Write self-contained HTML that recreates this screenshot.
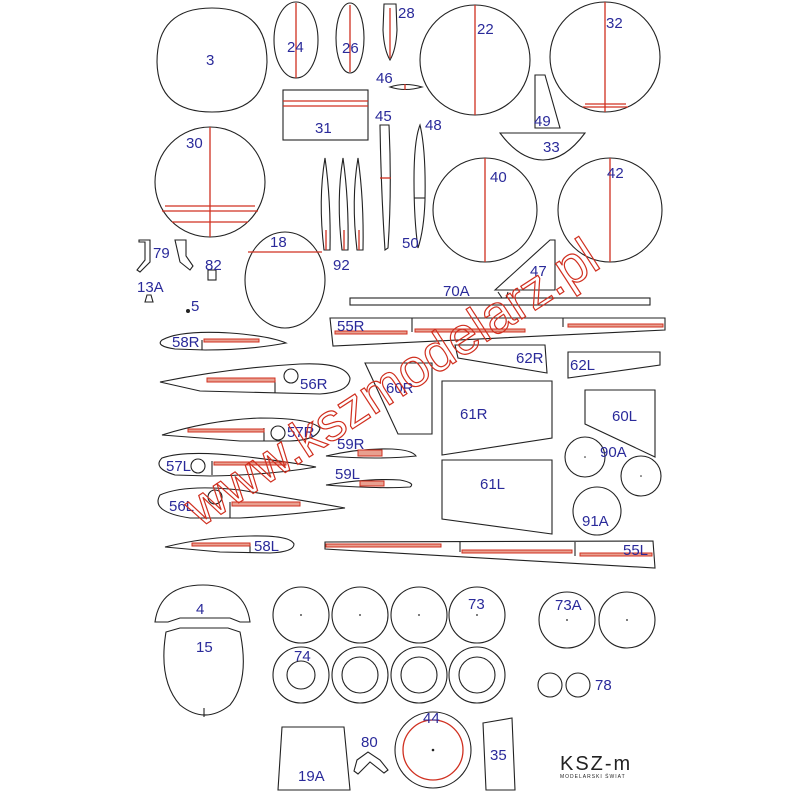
<!DOCTYPE html>
<html><head><meta charset="utf-8"><style>
html,body{margin:0;padding:0;background:#fff;width:800px;height:800px;overflow:hidden}
svg{display:block}
text{font-family:"Liberation Sans",sans-serif;fill:#2a2a9a;font-size:15px}
.k{fill:none;stroke:#222;stroke-width:1.1}
.r{stroke:#d03020;stroke-width:1.3;fill:none}
.rf{fill:#e8a090;stroke:#d03020;stroke-width:1}
</style></head><body>
<svg width="800" height="800" viewBox="0 0 800 800">
<!-- top row -->
<path class="k" d="M212,8 Q267,8 267,62 Q265,112 212,112 Q158,112 157,62 Q157,8 212,8 Z"/><text x="206" y="65">3</text>
<ellipse class="k" cx="296" cy="40" rx="22" ry="38"/><line class="r" x1="296" y1="3" x2="296" y2="78"/><text x="287" y="52">24</text>
<ellipse class="k" cx="350" cy="38" rx="14" ry="35"/><line class="r" x1="350" y1="5" x2="350" y2="72"/><text x="342" y="53">26</text>
<path class="k" d="M384,4 L396,4 L397,30 Q396,50 390,60 Q384,50 383,30 Z"/><line class="r" x1="390" y1="8" x2="390" y2="58"/><text x="398" y="18">28</text>
<circle class="k" cx="475" cy="60" r="55"/><line class="r" x1="475" y1="5" x2="475" y2="115"/><text x="477" y="34">22</text>
<circle class="k" cx="605" cy="57" r="55"/><line class="r" x1="605" y1="2" x2="605" y2="112"/><line class="r" x1="585" y1="104" x2="626" y2="104"/><line class="r" x1="583" y1="107" x2="628" y2="107"/><text x="606" y="28">32</text>
<path class="k" d="M390,87 Q405,82 422,87 Q405,92 390,87 Z"/><line class="r" x1="405" y1="84" x2="405" y2="90"/><text x="376" y="83">46</text>
<rect class="k" x="283" y="90" width="85" height="50"/><line class="r" x1="283" y1="101" x2="368" y2="101"/><line class="r" x1="283" y1="106" x2="368" y2="106"/><text x="315" y="133">31</text>
<path class="k" d="M380,125 L389,125 Q392,190 388,248 L385,250 Q381,190 380,125 Z"/><line class="r" x1="380" y1="178" x2="391" y2="178"/><text x="375" y="121">45</text>
<path class="k" d="M420,125 Q426,150 425,200 Q424,230 418,248 Q414,220 414,180 Q414,140 420,125 Z"/><line class="k" x1="414" y1="198" x2="425" y2="198"/><text x="425" y="130">48</text>
<text x="402" y="248">50</text>
<path class="k" d="M535,75 L545,75 L560,128 L535,128 Z"/><text x="534" y="126">49</text>
<path class="k" d="M500,133 L585,133 Q565,160 543,160 Q520,160 500,133 Z"/><text x="543" y="152">33</text>
<circle class="k" cx="210" cy="182" r="55"/><line class="r" x1="210" y1="127" x2="210" y2="237"/><line class="r" x1="165" y1="206" x2="255" y2="206"/><line class="r" x1="162" y1="211" x2="258" y2="211"/><line class="r" x1="172" y1="222" x2="248" y2="222"/><text x="186" y="148">30</text>
<circle class="k" cx="485" cy="210" r="52"/><line class="r" x1="485" y1="158" x2="485" y2="262"/><text x="490" y="182">40</text>
<circle class="k" cx="610" cy="210" r="52"/><line class="r" x1="610" y1="158" x2="610" y2="262"/><text x="607" y="178">42</text>
<!-- 92 blades -->
<path class="k" d="M325,158 Q331,200 330,250 L324,250 Q318,200 325,158 Z"/>
<path class="k" d="M343,158 Q349,200 348,250 L342,250 Q336,200 343,158 Z"/>
<path class="k" d="M358,158 Q364,200 363,250 L357,250 Q351,200 358,158 Z"/>
<line class="r" x1="326" y1="230" x2="326" y2="250"/><line class="r" x1="344" y1="230" x2="344" y2="250"/><line class="r" x1="359" y1="230" x2="359" y2="250"/>
<text x="333" y="270">92</text>
<!-- 79 82 13A 5 -->
<path class="k" d="M139,240 L150,240 L150,262 L140,272 L137,270 L145,260 L145,242 L139,242 Z"/>
<path class="k" d="M175,240 L186,240 L186,256 L193,266 L190,270 L180,262 Z"/>
<text x="153" y="258">79</text>
<rect class="k" x="208" y="270" width="8" height="10"/><text x="205" y="270">82</text>
<text x="137" y="292">13A</text><path class="k" d="M145,302 L147,295 L151,295 L153,302 Z"/>
<text x="191" y="311">5</text><circle cx="188" cy="311" r="2" fill="#222"/>
<!-- 18 -->
<ellipse class="k" cx="285" cy="280" rx="40" ry="48"/><line class="r" x1="248" y1="252" x2="322" y2="252"/><text x="270" y="247">18</text>
<!-- 47 70A -->
<path class="k" d="M495,290 L550,240 L555,240 L555,290 Z"/><text x="530" y="276">47</text>
<rect class="k" x="350" y="298" width="300" height="7"/><text x="443" y="296">70A</text>
<path class="k" d="M498,292 L502,298 M508,292 L506,298"/>
<!-- 55R -->
<path class="k" d="M330,318 L665,318 L665,330 L333,346 Z"/><line class="k" x1="412" y1="318" x2="412" y2="332"/><line class="k" x1="563" y1="318" x2="563" y2="327"/>
<rect class="rf" x="335" y="331" width="72" height="3"/><rect class="rf" x="415" y="329" width="110" height="3"/><rect class="rf" x="568" y="324" width="95" height="3"/>
<text x="337" y="331">55R</text>
<!-- 58R -->
<path class="k" d="M162,340 Q180,330 230,333 Q270,336 286,343 Q250,350 205,350 L175,349 Q155,346 162,340 Z"/><line class="k" x1="202" y1="340" x2="202" y2="350"/><rect class="rf" x="204" y="339" width="55" height="3"/><text x="172" y="347">58R</text>
<!-- 62R 62L -->
<path class="k" d="M455,345 L545,345 L547,373 L458,358 Z"/><text x="516" y="363">62R</text>
<path class="k" d="M568,352 L660,352 L660,365 L568,378 Z"/><text x="570" y="370">62L</text>
<!-- 56R -->
<path class="k" d="M160,382 Q230,368 300,364 Q345,362 350,378 Q350,392 320,394 L200,391 Z"/><line class="k" x1="275" y1="380" x2="275" y2="393"/><rect class="rf" x="207" y="378" width="68" height="4"/><circle class="k" cx="291" cy="376" r="7"/><text x="300" y="389">56R</text>
<!-- 60R 61R 60L -->
<path class="k" d="M365,363 L432,363 L432,434 L398,434 Z"/><text x="386" y="393">60R</text>
<path class="k" d="M442,381 L552,381 L552,438 L442,455 Z"/><text x="460" y="419">61R</text>
<path class="k" d="M585,390 L655,390 L655,457 L585,424 Z"/><text x="612" y="421">60L</text>
<!-- 57R -->
<path class="k" d="M162,435 Q210,420 260,418 Q310,418 320,428 Q318,440 290,441 L240,441 Z"/><line class="k" x1="264" y1="428" x2="264" y2="441"/><rect class="rf" x="188" y="429" width="76" height="3"/><circle class="k" cx="278" cy="433" r="7"/><text x="287" y="437">57R</text>
<!-- 59R 59L -->
<path class="k" d="M326,456 Q360,448 392,449 Q412,450 416,456 Q380,460 326,456 Z"/><rect class="rf" x="358" y="450" width="24" height="6"/><text x="337" y="449">59R</text>
<path class="k" d="M326,485 Q370,478 400,480 Q416,483 410,487 Q380,489 326,485 Z"/><rect class="rf" x="360" y="481" width="24" height="5"/><text x="335" y="479">59L</text>
<!-- 57L -->
<path class="k" d="M162,458 Q185,450 240,456 Q290,462 316,467 Q270,475 210,476 L175,475 Q152,468 162,458 Z"/><line class="k" x1="212" y1="461" x2="212" y2="475"/><rect class="rf" x="214" y="462" width="72" height="3"/><circle class="k" cx="198" cy="466" r="7"/><text x="166" y="471">57L</text>
<!-- 61L -->
<path class="k" d="M442,460 L552,460 L552,534 L442,519 Z"/><text x="480" y="489">61L</text>
<!-- 90A 91A -->
<circle class="k" cx="585" cy="457" r="20"/><circle cx="585" cy="457" r="0.8" fill="#222"/>
<circle class="k" cx="641" cy="476" r="20"/><circle cx="641" cy="476" r="0.8" fill="#222"/>
<text x="600" y="457">90A</text>
<circle class="k" cx="597" cy="511" r="24"/><text x="582" y="526">91A</text>
<!-- 56L -->
<path class="k" d="M160,495 Q185,484 240,490 Q300,500 345,508 Q290,515 240,518 L190,518 Q150,512 160,495 Z"/><line class="k" x1="230" y1="502" x2="230" y2="518"/><rect class="rf" x="232" y="502" width="68" height="4"/><circle class="k" cx="215" cy="497" r="7"/><text x="169" y="511">56L</text>
<!-- 58L -->
<path class="k" d="M165,547 Q205,537 250,536 Q290,535 294,544 Q294,552 270,553 L220,552 Z"/><line class="k" x1="250" y1="544" x2="250" y2="553"/><rect class="rf" x="192" y="543" width="58" height="3"/><text x="254" y="551">58L</text>
<!-- 55L -->
<path class="k" d="M325,542 L653,541 L655,568 L325,549 Z"/><line class="k" x1="460" y1="542" x2="460" y2="552"/><line class="k" x1="575" y1="542" x2="575" y2="556"/>
<rect class="rf" x="326" y="544" width="115" height="3"/><rect class="rf" x="462" y="550" width="110" height="3"/><rect class="rf" x="580" y="553" width="72" height="3"/>
<text x="623" y="555">55L</text>
<!-- watermark -->
<text x="0" y="0" transform="translate(200,528) rotate(-33)" style="font-size:53px;fill:none;stroke:#d03020;stroke-width:1.2;font-family:'Liberation Sans',sans-serif">www.kszmodelarz.pl</text>
<!-- 4 15 -->
<path class="k" d="M155,622 Q160,585 203,585 Q245,585 250,622 L240,622 L230,618 L180,618 L168,622 Z"/><text x="196" y="614">4</text>
<path class="k" d="M166,632 L180,628 L228,628 L240,632 Q250,680 230,705 Q205,725 180,705 Q158,680 166,632 Z"/><line class="k" x1="204" y1="708" x2="204" y2="717"/><text x="196" y="652">15</text>
<!-- wheels -->
<g class="k">
<circle cx="301" cy="615" r="28"/><circle cx="360" cy="615" r="28"/><circle cx="419" cy="615" r="28"/><circle cx="477" cy="615" r="28"/>
<circle cx="301" cy="675" r="28"/><circle cx="301" cy="675" r="14"/>
<circle cx="360" cy="675" r="28"/><circle cx="360" cy="675" r="18"/>
<circle cx="419" cy="675" r="28"/><circle cx="419" cy="675" r="18"/>
<circle cx="477" cy="675" r="28"/><circle cx="477" cy="675" r="18"/>
<circle cx="567" cy="620" r="28"/><circle cx="627" cy="620" r="28"/>
<circle cx="550" cy="685" r="12"/><circle cx="578" cy="685" r="12"/>
</g>
<g fill="#222"><circle cx="301" cy="615" r="0.9"/><circle cx="360" cy="615" r="0.9"/><circle cx="419" cy="615" r="0.9"/><circle cx="477" cy="615" r="0.9"/><circle cx="567" cy="620" r="0.9"/><circle cx="627" cy="620" r="0.9"/></g>
<text x="468" y="609">73</text><text x="555" y="610">73A</text><text x="294" y="661">74</text><text x="595" y="690">78</text>
<!-- bottom -->
<path class="k" d="M282,727 L344,727 L350,790 L278,790 Z"/><text x="298" y="781">19A</text>
<path class="k" d="M357,760 L368,752 L380,760 L388,770 L384,773 L370,762 L358,774 L354,771 Z"/><text x="361" y="747">80</text>
<circle class="k" cx="433" cy="750" r="38"/><circle class="r" cx="433" cy="750" r="30"/><circle cx="433" cy="750" r="1.3" fill="#222"/><text x="423" y="723">44</text>
<path class="k" d="M483,723 L512,718 L515,790 L486,790 Z"/><text x="490" y="760">35</text>
<text x="560" y="770" style="fill:#222;font-size:20px;letter-spacing:2px">KSZ-m</text>
<text x="560" y="778" style="fill:#222;font-size:5px;letter-spacing:1px">MODELARSKI ŚWIAT</text>
</svg>
</body></html>
